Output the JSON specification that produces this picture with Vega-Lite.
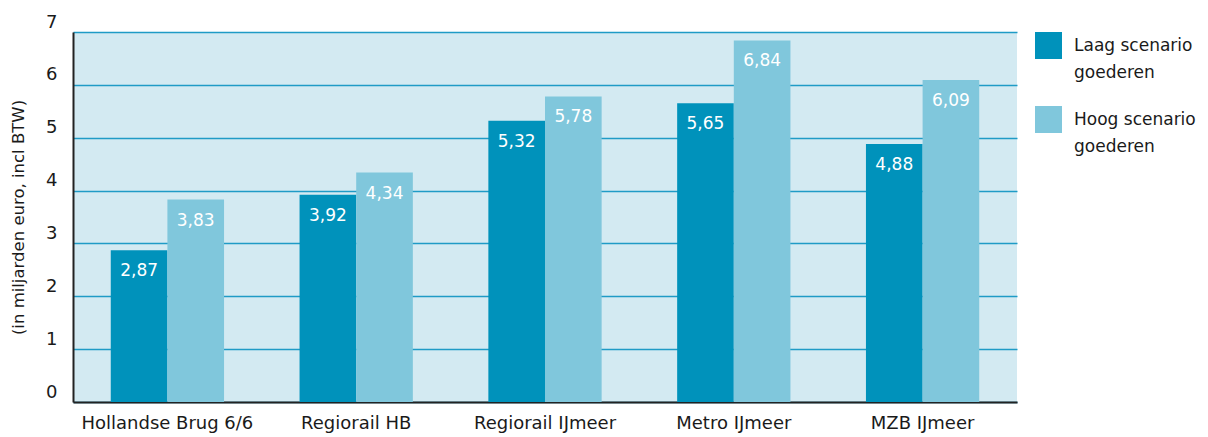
{
  "$schema": "https://vega.github.io/schema/vega-lite/v6.json",
  "width": 944,
  "height": 370,
  "autosize": {"type": "none"},
  "padding": {"left": 73, "top": 32, "right": 191, "bottom": 35},
  "background": "white",
  "config": {
    "font": "DejaVu Sans",
    "view": {"fill": "#d3eaf2", "stroke": null},
    "locale": {"number": {"decimal": ",", "thousands": ".", "grouping": [3], "currency": ["€", ""]}},
    "style": {"guide-label": {"lineHeight": 27}}
  },
  "data": {
    "values": [
      {"project": "Hollandse Brug 6/6", "scenario": "Laag scenario|goederen", "value": 2.87},
      {"project": "Hollandse Brug 6/6", "scenario": "Hoog scenario|goederen", "value": 3.83},
      {"project": "Regiorail HB", "scenario": "Laag scenario|goederen", "value": 3.92},
      {"project": "Regiorail HB", "scenario": "Hoog scenario|goederen", "value": 4.34},
      {"project": "Regiorail IJmeer", "scenario": "Laag scenario|goederen", "value": 5.32},
      {"project": "Regiorail IJmeer", "scenario": "Hoog scenario|goederen", "value": 5.78},
      {"project": "Metro IJmeer", "scenario": "Laag scenario|goederen", "value": 5.65},
      {"project": "Metro IJmeer", "scenario": "Hoog scenario|goederen", "value": 6.84},
      {"project": "MZB IJmeer", "scenario": "Laag scenario|goederen", "value": 4.88},
      {"project": "MZB IJmeer", "scenario": "Hoog scenario|goederen", "value": 6.09}
    ]
  },
  "encoding": {
    "x": {
      "field": "project",
      "type": "nominal",
      "sort": null,
      "scale": {"paddingInner": 0.4, "paddingOuter": 0.2},
      "axis": {
        "title": null,
        "labelAngle": 0,
        "labelFontSize": 18,
        "labelColor": "#1a1a1a",
        "labelPadding": 12,
        "ticks": false,
        "domainColor": "#222222",
        "domainWidth": 2
      }
    },
    "xOffset": {
      "field": "scenario",
      "type": "nominal",
      "sort": ["Laag scenario|goederen", "Hoog scenario|goederen"]
    },
    "y": {
      "field": "value",
      "type": "quantitative",
      "scale": {"domain": [0, 7], "nice": false},
      "axis": {
        "title": "(in miljarden euro, incl BTW)",
        "titleFontSize": 16.5,
        "titleFontWeight": "normal",
        "titleColor": "#1a1a1a",
        "titlePadding": 19,
        "values": [0, 1, 2, 3, 4, 5, 6, 7],
        "format": "d",
        "labelFontSize": 18,
        "labelColor": "#1a1a1a",
        "labelPadding": 16,
        "labelOffset": -10,
        "ticks": false,
        "grid": true,
        "gridColor": "#1f9bc6",
        "gridWidth": 1.5,
        "domainColor": "#222222",
        "domainWidth": 2
      }
    }
  },
  "layer": [
    {
      "mark": {"type": "bar"},
      "encoding": {
        "color": {
          "field": "scenario",
          "type": "nominal",
          "sort": ["Laag scenario|goederen", "Hoog scenario|goederen"],
          "scale": {"domain": ["Laag scenario|goederen", "Hoog scenario|goederen"], "range": ["#0092bb", "#80c7dc"]},
          "legend": {
            "title": null,
            "orient": "none",
            "legendX": 962,
            "legendY": 0,
            "symbolType": "square",
            "symbolSize": 729,
            "symbolStrokeWidth": 0,
            "symbolOpacity": 1,
            "labelFontSize": 17,
            "labelColor": "#1a1a1a",
            "labelOffset": 12,
            "labelExpr": "split(datum.label, '|')",
            "labelLimit": 300,
            "rowPadding": 25
          }
        }
      }
    },
    {
      "mark": {"type": "text", "color": "white", "fontSize": 17, "baseline": "middle", "dy": 21},
      "encoding": {
        "text": {"field": "value", "type": "quantitative", "format": ".2f"}
      }
    }
  ]
}
